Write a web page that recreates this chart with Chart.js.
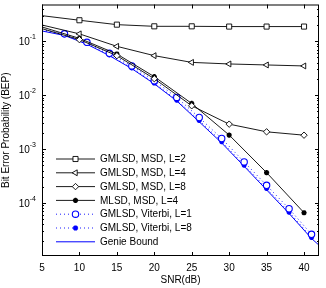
<!DOCTYPE html>
<html>
<head>
<meta charset="utf-8">
<script src="https://cdn.jsdelivr.net/npm/chart.js@4.4.1/dist/chart.umd.min.js"></script>
<style>
  html, body { margin: 0; padding: 0; background: #fff; }
  #wrap { width: 326px; height: 288px; }
</style>
</head>
<body>
<div id="wrap"><canvas id="berChart"></canvas></div>
<script>
// SNR grids (dB)
const snrStep5 = [5, 10, 15, 20, 25, 30, 35, 40];
const snrStep3 = [5, 8, 11, 14, 17, 20, 23, 26, 29, 32, 35, 38, 41];
const snrGenie = [5, 8, 11, 14, 17, 20, 23, 26, 29, 32, 35, 38, 41, 42];

// BEP values
const bepMsdL2 = [0.298, 0.245, 0.203, 0.189, 0.189, 0.187, 0.187, 0.187];
const bepMsdL4 = [0.200, 0.137, 0.0804, 0.054, 0.0405, 0.0379, 0.0363, 0.0348];
const bepMsdL8 = [0.171, 0.107, 0.054, 0.0202, 0.00635, 0.0029, 0.00209, 0.00181];
const bepMlsdL4 = [0.184, 0.113, 0.058, 0.022, 0.00701, 0.00182, 0.000366, 0.000066];
const bepViterbiL1 = [0.165, 0.137, 0.0955, 0.0596, 0.0348, 0.0185, 0.00906, 0.00385, 0.00157, 0.000578, 0.000213, 0.0000783, 0.0000262];
const bepViterbiL8 = [0.160, 0.131, 0.091, 0.056, 0.032, 0.0168, 0.0081, 0.0034, 0.00138, 0.000505, 0.000186, 0.000068, 0.000023];
const bepGenie = [0.155, 0.128, 0.088, 0.054, 0.031, 0.0162, 0.0078, 0.0032, 0.0013, 0.00048, 0.000175, 0.000064, 0.000022, 0.0000165];

// axis ticks
const xTicks = [5, 10, 15, 20, 25, 30, 35, 40];
const yTicks = [1e-4, 1e-3, 1e-2, 1e-1];
const yTickExp = ["-4", "-3", "-2", "-1"];

const FONT = "'Liberation Sans', Arial, Helvetica, sans-serif";
const BLUE = "#0000ff";

const pts = (xs, ys) => xs.map((x, i) => ({ x: x, y: ys[i] }));
// markers sitting on the left axis are clipped away in the original
const markerSize = (r) => (c) => (c.raw && c.raw.x <= 5 ? 0 : r);

function series(label, xs, ys, color, style, r, extra) {
  return Object.assign({
    label: label,
    data: pts(xs, ys),
    borderColor: color,
    backgroundColor: "#fff",
    pointBorderColor: color,
    pointBackgroundColor: "#fff",
    borderWidth: 0.9,
    pointBorderWidth: 0.9,
    pointStyle: style,
    pointRadius: markerSize(r),
    pointHoverRadius: 0,
    tension: 0,
    fill: false
  }, extra || {});
}

const datasets = [
  series("GMLSD, MSD, L=2", snrStep5, bepMsdL2, "#000", "rect", 3.6),
  series("GMLSD, MSD, L=4", snrStep5, bepMsdL4, "#000", "triangle", 3.4, { pointRotation: -90 }),
  series("GMLSD, MSD, L=8", snrStep5, bepMsdL8, "#000", "rectRot", 3.2),
  series("MLSD, MSD, L=4", snrStep5, bepMlsdL4, "#000", "star", 2.6,
    { pointBackgroundColor: "#000", pointBorderWidth: 1.6 }),
  series("GMLSD, Viterbi, L=1", snrStep3, bepViterbiL1, BLUE, "circle", 3.2,
    { borderDash: [1, 3], pointBorderWidth: 1.1 }),
  series("GMLSD, Viterbi, L=8", snrStep3, bepViterbiL8, BLUE, "star", 2.6,
    { borderDash: [1, 3], pointBackgroundColor: BLUE, pointBorderWidth: 1.6 }),
  series("Genie Bound", snrGenie, bepGenie, BLUE, "circle", 0, { borderWidth: 1 })
];

// MATLAB-style box, inward ticks, superscript y labels and legend
const matlabAxes = {
  id: "matlabAxes",
  afterDraw(chart) {
    const { ctx, chartArea: a, scales: { x, y } } = chart;
    ctx.save();
    ctx.strokeStyle = "#000";
    ctx.lineWidth = 1;
    ctx.setLineDash([]);
    ctx.beginPath();
    xTicks.forEach((v) => {
      const px = Math.round(x.getPixelForValue(v)) + 0.5;
      ctx.moveTo(px, a.bottom); ctx.lineTo(px, a.bottom - 4);
      ctx.moveTo(px, a.top); ctx.lineTo(px, a.top + 4);
    });
    for (let e = -5; e <= 0; e++) {
      for (let k = 1; k < 10; k++) {
        const v = k * Math.pow(10, e);
        if (v < y.min || v > y.max) continue;
        const py = Math.round(y.getPixelForValue(v)) + 0.5;
        const len = k === 1 ? 4 : 2;
        ctx.moveTo(a.left, py); ctx.lineTo(a.left + len, py);
        ctx.moveTo(a.right, py); ctx.lineTo(a.right - len, py);
      }
    }
    ctx.stroke();
    ctx.strokeRect(a.left + 0.5, a.top + 0.5, a.right - a.left - 1, a.bottom - a.top - 1);

    // y tick labels: 10 with raised exponent
    ctx.fillStyle = "#000";
    ctx.textBaseline = "middle";
    ctx.textAlign = "left";
    yTicks.forEach((v, i) => {
      const py = y.getPixelForValue(v);
      ctx.font = "7px " + FONT;
      const wExp = ctx.measureText(yTickExp[i]).width;
      ctx.font = "10px " + FONT;
      const wBase = ctx.measureText("10").width;
      const x0 = a.left - 6 - wExp - wBase;
      ctx.fillText("10", x0, py + 1.5);
      ctx.font = "7px " + FONT;
      ctx.fillText(yTickExp[i], x0 + wBase, py - 4);
    });

    // legend
    const lx0 = 56, lx1 = 95, ly0 = 159, step = 13.8;
    chart.data.datasets.forEach((ds, i) => {
      const ly = ly0 + i * step;
      ctx.strokeStyle = ds.borderColor;
      ctx.lineWidth = ds.borderWidth;
      ctx.setLineDash(ds.borderDash || []);
      ctx.beginPath();
      ctx.moveTo(lx0, ly); ctx.lineTo(lx1, ly);
      ctx.stroke();
      ctx.setLineDash([]);
      const r = typeof ds.pointRadius === "function" ? ds.pointRadius({ raw: { x: 10 } }) : ds.pointRadius;
      if (r > 0) {
        ctx.fillStyle = ds.pointBackgroundColor;
        ctx.strokeStyle = ds.pointBorderColor;
        ctx.lineWidth = ds.pointBorderWidth;
        Chart.helpers.drawPoint(ctx, {
          pointStyle: ds.pointStyle, radius: r,
          borderWidth: ds.pointBorderWidth, rotation: ds.pointRotation || 0
        }, (lx0 + lx1) / 2, ly);
      }
      ctx.fillStyle = "#000";
      ctx.font = "10px " + FONT;
      ctx.fillText(ds.label, 100, ly + 0.5);
    });
    ctx.restore();
  }
};

new Chart(document.getElementById("berChart"), {
  type: "line",
  data: { datasets: datasets },
  options: {
    responsive: true,
    maintainAspectRatio: false,
    animation: false,
    devicePixelRatio: 1,
    layout: { padding: { top: 3, right: 7, left: 0, bottom: 0 } },
    plugins: {
      legend: { display: false },
      tooltip: { enabled: false }
    },
    scales: {
      x: {
        type: "linear",
        min: 5,
        max: 42,
        afterBuildTicks: (s) => { s.ticks = xTicks.map((v) => ({ value: v })); },
        afterFit: (s) => { s.height = 32; },
        grid: { display: false, drawTicks: false },
        border: { display: false },
        ticks: { color: "#000", font: { family: FONT, size: 10 }, padding: 6, maxRotation: 0, autoSkip: false },
        title: { display: true, text: "SNR(dB)", color: "#000", font: { family: FONT, size: 10 }, padding: { top: 0, bottom: 2 } }
      },
      y: {
        type: "logarithmic",
        min: 1.04e-5,
        max: 0.48,
        afterBuildTicks: (s) => { s.ticks = yTicks.map((v) => ({ value: v })); },
        afterFit: (s) => { s.width = 42; },
        grid: { display: false, drawTicks: false },
        border: { display: false },
        ticks: { display: false },
        title: { display: true, text: "Bit Error Probability (BEP)", color: "#000", font: { family: FONT, size: 10 }, padding: { top: 0.5, bottom: 0 } }
      }
    }
  },
  plugins: [matlabAxes]
});
</script>
</body>
</html>
